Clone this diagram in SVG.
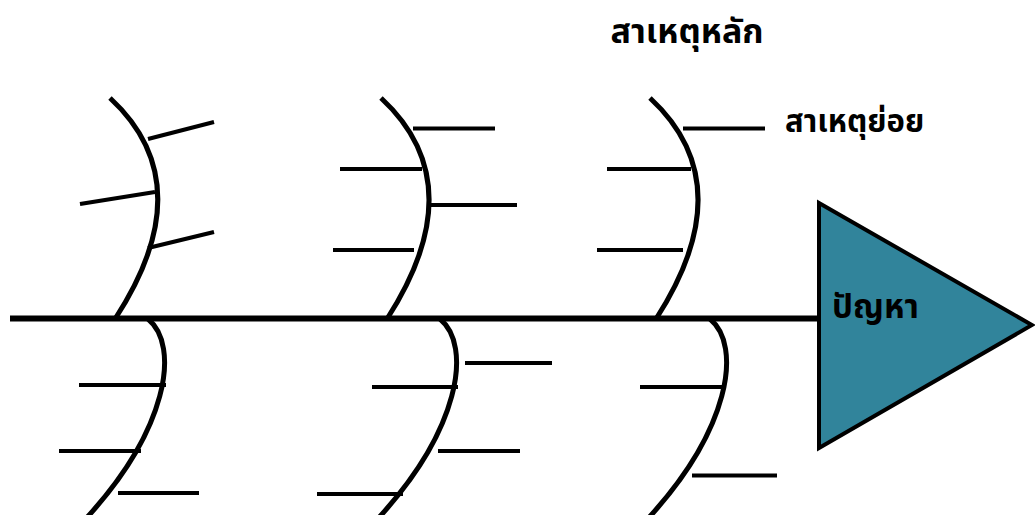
<svg xmlns="http://www.w3.org/2000/svg" width="1035" height="515" viewBox="0 0 1035 515">
<style>
.bone{fill:none;stroke:#000;stroke-width:5}
.sub{fill:none;stroke:#000;stroke-width:4}
.spine{fill:none;stroke:#000;stroke-width:6}
.lbl{font-family:"Noto Sans","Noto Sans Thai","DejaVu Sans",sans-serif;font-weight:bold;fill:#000}
</style>
<rect width="1035" height="515" fill="#fff"/>
<g id="connectors">
<line class="spine" x1="10" y1="318.5" x2="822" y2="318.5"/>
<path class="bone" d="M110,98 Q203,184 115,319"/>
<path class="bone" d="M381,98 Q474,184 387,319"/>
<path class="bone" d="M650,98 Q743,184 656,319"/>
<path class="bone" d="M148,319 C180,345 170,430 80,525"/>
<path class="bone" d="M440,319 C472,345 462,430 372,525"/>
<path class="bone" d="M710,319 C742,345 732,430 642,525"/>
<line class="sub" x1="148" y1="139" x2="214" y2="122"/>
<line class="sub" x1="80" y1="204" x2="155" y2="192"/>
<line class="sub" x1="148" y1="248" x2="214" y2="232"/>
<line class="sub" x1="413" y1="128.5" x2="495" y2="128.5"/>
<line class="sub" x1="340" y1="169" x2="422" y2="169"/>
<line class="sub" x1="430" y1="205" x2="517" y2="205"/>
<line class="sub" x1="333" y1="250" x2="414" y2="250"/>
<line class="sub" x1="683" y1="128.5" x2="765" y2="128.5"/>
<line class="sub" x1="607" y1="169" x2="691" y2="169"/>
<line class="sub" x1="597" y1="250" x2="683" y2="250"/>
<line class="sub" x1="79" y1="385" x2="166" y2="385"/>
<line class="sub" x1="59" y1="451" x2="141" y2="451"/>
<line class="sub" x1="118" y1="493" x2="199" y2="493"/>
<line class="sub" x1="465" y1="363" x2="552" y2="363"/>
<line class="sub" x1="372" y1="387" x2="458" y2="387"/>
<line class="sub" x1="438" y1="451" x2="520" y2="451"/>
<line class="sub" x1="317" y1="494" x2="403" y2="494"/>
<line class="sub" x1="640" y1="387" x2="726" y2="387"/>
<line class="sub" x1="692" y1="475.5" x2="777" y2="475.5"/>
</g>
<g id="problem">
<polygon points="819,203 1032,325 819,448" fill="#31849b" stroke="#000" stroke-width="4" stroke-linejoin="miter"/>
<text class="lbl" x="832" y="318" font-size="33">ปัญหา</text>
</g>
<g id="main-cause-label">
<text class="lbl" x="687" y="43" font-size="34" text-anchor="middle">สาเหตุหลัก</text>
</g>
<g id="sub-cause-label">
<text class="lbl" x="785" y="132" font-size="31">สาเหตุย่อย</text>
</g>
</svg>
